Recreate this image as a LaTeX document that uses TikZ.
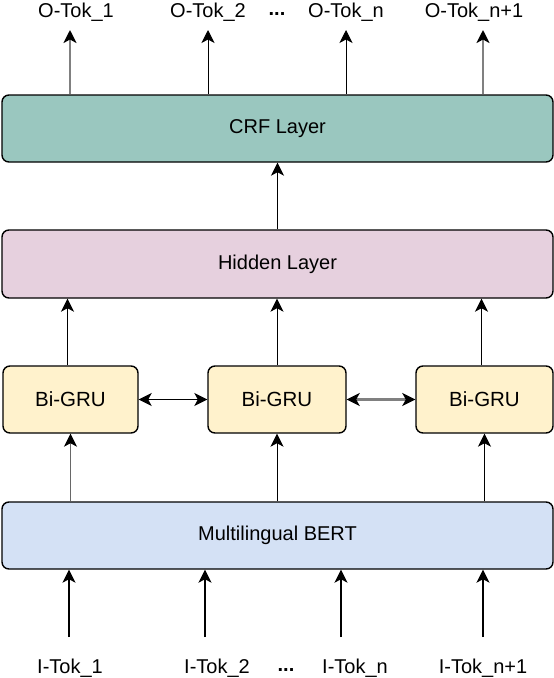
\documentclass[tikz,border=0pt]{standalone}
\usepackage{fontspec}
\setmainfont{Liberation Sans}
\usetikzlibrary{arrows.meta}

\definecolor{crfgreen}{HTML}{9AC7BF}
\definecolor{hidpink}{HTML}{E6D0DE}
\definecolor{gruyellow}{HTML}{FFF2CC}
\definecolor{bertblue}{HTML}{D4E1F5}
\definecolor{arrgray}{HTML}{808080}

\begin{document}
\begin{tikzpicture}[x=1pt,y=-1pt,>={Stealth[length=13pt,width=13pt,inset=3.5pt,color=black]},
    layer/.style={draw,line width=1.4pt,rounded corners=7pt,minimum width=551pt,minimum height=67pt,font=\fontsize{20}{24}\selectfont},
    grubox/.style={draw,line width=1.4pt,rounded corners=7pt,fill=gruyellow,minimum height=67pt,font=\fontsize{20.5}{24}\selectfont},
    tok/.style={font=\fontsize{20}{24}\selectfont,inner sep=0pt},
    blackarr/.style={->,line width=1.2pt},
    grayarr/.style={->,line width=2.8pt,arrgray}]
    \useasboundingbox (0,0) rectangle (554,678);

    % Layers
    \node[layer,fill=crfgreen] (crf) at (277.5,128.5) {CRF Layer};
    \node[layer,fill=hidpink,minimum height=68pt] (hid) at (277.5,264) {Hidden Layer};
    \node[layer,fill=bertblue] (bert) at (277.5,535.5) {Multilingual BERT};

    % Bi-GRU cells
    \node[grubox,minimum width=135pt] (gru1) at (70.5,399.5) {Bi-GRU};
    \node[grubox,minimum width=138pt] (gru2) at (277,399.5) {Bi-GRU};
    \node[grubox,minimum width=137pt] (gru3) at (484.5,399.5) {Bi-GRU};

    % Output tokens
    \node[tok] (o1) at (76,12) {O-Tok\_1};
    \node[tok] (o2) at (208,12) {O-Tok\_2};
    \node[tok] (odots) at (277,14) {\textbf{...}};
    \node[tok] (on) at (346,12) {O-Tok\_n};
    \node[tok] (on1) at (474,12) {O-Tok\_n+1};
    \coordinate (ot1) at (70,30);
    \coordinate (ot2) at (208,30);
    \coordinate (otn) at (346,30);
    \coordinate (otn1) at (483,30);

    % Input tokens
    \node[tok] (i1) at (70,668) {I-Tok\_1};
    \node[tok] (i2) at (217,668) {I-Tok\_2};
    \node[tok] (idots) at (286,670) {\textbf{...}};
    \node[tok] (in) at (355,668) {I-Tok\_n};
    \node[tok] (in1) at (483,668) {I-Tok\_n+1};
    \coordinate (it1) at (69,637);
    \coordinate (it2) at (205,637);
    \coordinate (itn) at (341,637);
    \coordinate (itn1) at (483,637);

    % Inputs into BERT
    \draw[blackarr] (it1) -- (it1 |- bert.south);
    \draw[blackarr] (it2) -- (it2 |- bert.south);
    \draw[blackarr] (itn) -- (itn |- bert.south);
    \draw[blackarr] (itn1) -- (itn1 |- bert.south);

    % BERT to Bi-GRU
    \draw[->,line width=1.2pt,arrgray!80!black] (gru1.south |- bert.north) -- (gru1.south);
    \draw[blackarr,line width=0.9pt] (gru2.south |- bert.north) -- (gru2.south);
    \draw[blackarr,line width=0.9pt] (gru3.south |- bert.north) -- (gru3.south);

    % Between cells
    \draw[<->,line width=1.3pt] (gru1.east) -- (gru2.west);
    \draw[<->,line width=2.8pt,arrgray] (gru2.east) -- (gru3.west);

    % Bi-GRU to hidden
    \draw[blackarr,line width=1.5pt] ([xshift=-3pt]gru1.north) -- ([xshift=-3pt]gru1.north |- hid.south);
    \draw[blackarr,line width=0.9pt] (gru2.north) -- (gru2.north |- hid.south);
    \draw[blackarr,line width=1.5pt] ([xshift=-3pt]gru3.north) -- ([xshift=-3pt]gru3.north |- hid.south);

    % Hidden to CRF
    \draw[blackarr,line width=0.9pt] (hid.north) -- (crf.south);

    % CRF outputs
    \draw[grayarr] (ot1 |- crf.north) -- (ot1);
    \draw[blackarr,line width=0.9pt] (ot2 |- crf.north) -- (ot2);
    \draw[blackarr,line width=0.9pt] (otn |- crf.north) -- (otn);
    \draw[grayarr] (otn1 |- crf.north) -- (otn1);
\end{tikzpicture}
\end{document}
